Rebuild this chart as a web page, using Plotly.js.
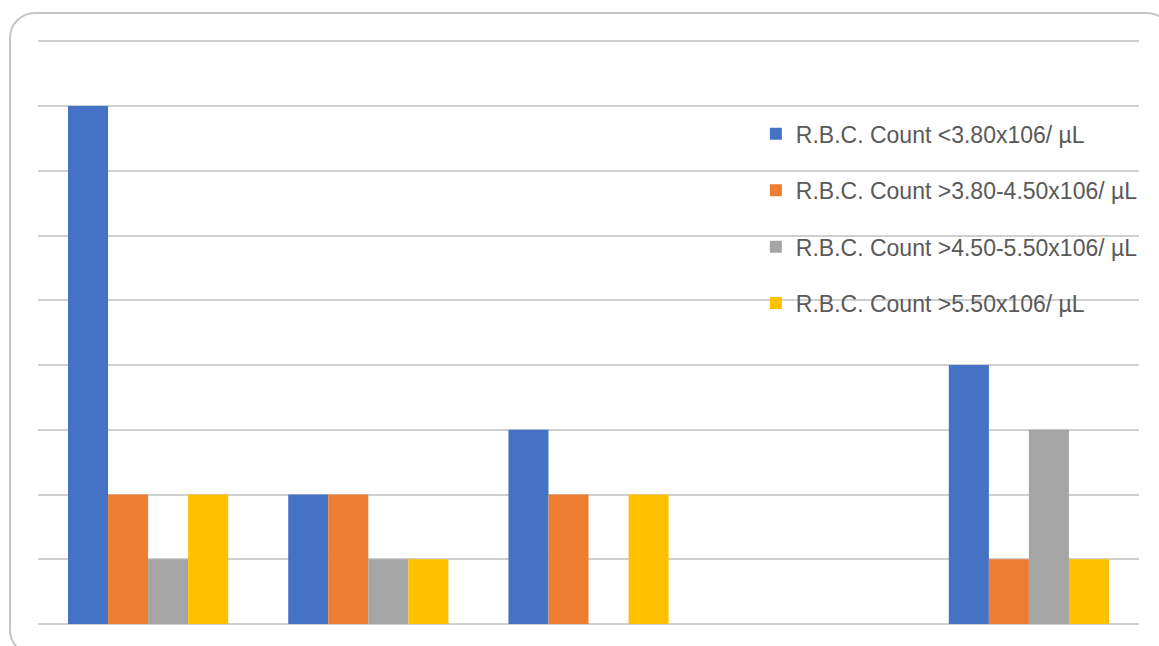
<!DOCTYPE html>
<html>
<head>
<meta charset="utf-8">
<script src="https://cdn.plot.ly/plotly-3.0.1.min.js"></script>
<style>
  html, body { margin: 0; padding: 0; background: #ffffff; overflow: hidden; }
  #card {
    position: absolute; left: 9px; top: 12px; width: 1164px; height: 644px;
    border: 2px solid #c4c4c4; border-radius: 26px; box-sizing: border-box;
  }
  #chart { position: absolute; left: 0; top: 0; width: 1159px; height: 646px; }
</style>
</head>
<body>
<div id="card"></div>
<div id="chart"></div>
<script>
// Five groups of patients, four R.B.C. count bands each
const groups = ['G1', 'G2', 'G3', 'G4', 'G5'];

const seriesNames = [
  'R.B.C. Count <3.80x106/ \u00b5L',
  'R.B.C. Count >3.80-4.50x106/ \u00b5L',
  'R.B.C. Count >4.50-5.50x106/ \u00b5L',
  'R.B.C. Count >5.50x106/ \u00b5L'
];

const below380 = [8, 2, 3, 0, 4];
const from380to450 = [2, 2, 2, 0, 1];
const from450to550 = [1, 1, 0, 0, 3];
const above550 = [2, 1, 2, 0, 1];

const seriesValues = [below380, from380to450, from450to550, above550];
const seriesColors = ['#4472C4', '#ED7D31', '#A5A5A5', '#FFC000'];

const traces = seriesValues.map((vals, i) => ({
  type: 'bar',
  x: groups,
  y: vals,
  name: seriesNames[i],
  legendgroup: 'g' + i,
  marker: { color: seriesColors[i], line: { width: 0 } },
  hoverinfo: 'name+y'
}));

const layout = {
  width: 1159,
  height: 646,
  margin: { l: 38, r: 20, t: 40, b: 22, pad: 0 },
  paper_bgcolor: 'rgba(0,0,0,0)',
  plot_bgcolor: 'rgba(0,0,0,0)',
  barmode: 'group',
  bargap: 0.2727,
  bargroupgap: 0,
  showlegend: true,
  legend: {
    x: 0.652, xanchor: 'left',
    y: 0.876, yanchor: 'top',
    bgcolor: 'rgba(0,0,0,0)',
    borderwidth: 0,
    traceorder: 'grouped',
    tracegroupgap: 23.5,
    itemwidth: 30,
    font: { family: 'Liberation Sans, Arial, sans-serif', size: 23, color: '#595959' }
  },
  xaxis: {
    type: 'category',
    showticklabels: false,
    ticks: '',
    showgrid: false,
    zeroline: false,
    showline: false,
    fixedrange: true
  },
  yaxis: {
    range: [0, 9.02],
    dtick: 1,
    tick0: 0,
    showticklabels: false,
    ticks: '',
    showgrid: true,
    gridcolor: '#cfcfcf',
    gridwidth: 2,
    zeroline: true,
    zerolinecolor: '#cfcfcf',
    zerolinewidth: 2,
    showline: false,
    fixedrange: true
  }
};

Plotly.newPlot('chart', traces, layout, { displayModeBar: false, staticPlot: true });
</script>
</body>
</html>
